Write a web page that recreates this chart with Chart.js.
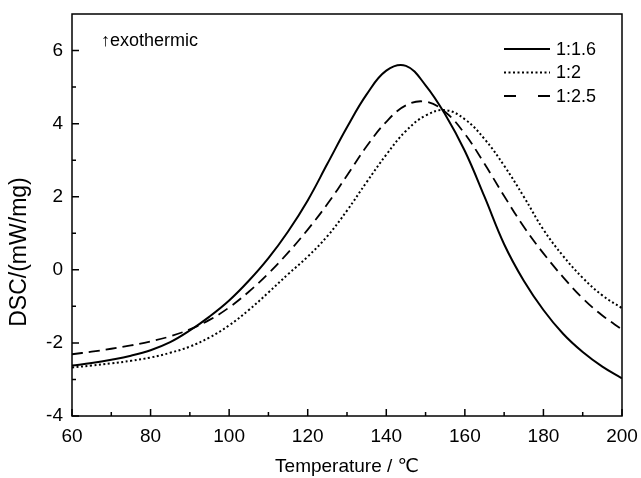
<!DOCTYPE html>
<html>
<head>
<meta charset="utf-8">
<script src="https://cdn.jsdelivr.net/npm/chart.js@4/dist/chart.umd.min.js"></script>
<style>
  html, body { margin: 0; padding: 0; background: #fff; }
  #wrap { width: 641px; height: 478px; }
</style>
</head>
<body>
<div id="wrap"><canvas id="dsc" width="641" height="478"></canvas></div>
<script>
// temperatures (°C) the curves were read at
const temps = [60, 65, 70, 75, 80, 85, 90, 95, 100, 105, 110, 115, 120, 125, 130,
               135, 140, 145, 150, 155, 160, 165, 170, 175, 180, 185, 190, 195, 200];

// DSC (mW/mg)
const dsc16 = [-2.62, -2.55, -2.46, -2.35, -2.20, -1.98, -1.66, -1.28, -0.84, -0.30,
               0.32, 1.05, 1.90, 2.90, 3.90, 4.80, 5.45, 5.58, 5.05, 4.25,
               3.25, 2.00, 0.70, -0.30, -1.10, -1.75, -2.25, -2.65, -2.97];
const dsc2 = [-2.67, -2.62, -2.56, -2.49, -2.40, -2.27, -2.10, -1.85, -1.52, -1.10,
              -0.62, -0.12, 0.36, 0.92, 1.62, 2.40, 3.15, 3.80, 4.22, 4.37,
              4.12, 3.58, 2.85, 2.00, 1.10, 0.38, -0.22, -0.70, -1.05];
const dsc25 = [-2.31, -2.24, -2.16, -2.07, -1.96, -1.82, -1.63, -1.37, -1.03, -0.60,
               -0.10, 0.47, 1.10, 1.80, 2.58, 3.38, 4.05, 4.50, 4.60, 4.32,
               3.72, 2.90, 2.02, 1.18, 0.45, -0.20, -0.78, -1.25, -1.63];

const seriesNames = ['1:1.6', '1:2', '1:2.5'];
const xTicks = [60, 80, 100, 120, 140, 160, 180, 200];
const xMinor = [70, 90, 110, 130, 150, 170, 190];
const yTicks = [-4, -2, 0, 2, 4, 6];
const yMinor = [-3, -1, 1, 3, 5];

const FONT = '"Liberation Sans", Arial, "DejaVu Sans", "Noto Sans CJK SC", sans-serif';

function pts(vals) {
    return temps.map((t, i) => ({x: t, y: vals[i]}));
}

const dashes = [[], [2, 2.5], [11, 6]];
const legendDashes = [[], [2, 2.5], [12, 22]];

// frame, inward ticks, y title, note and legend
const decor = {
    id: 'decor',
    afterDraw(chart) {
        const ctx = chart.ctx;
        const a = chart.chartArea;
        const xs = chart.scales.x, ys = chart.scales.y;
        ctx.save();
        ctx.strokeStyle = '#000';
        ctx.lineWidth = 1.5;
        ctx.strokeRect(a.left, a.top, a.right - a.left, a.bottom - a.top);

        ctx.beginPath();
        xTicks.forEach(v => { const p = xs.getPixelForValue(v); ctx.moveTo(p, a.bottom); ctx.lineTo(p, a.bottom - 7); });
        xMinor.forEach(v => { const p = xs.getPixelForValue(v); ctx.moveTo(p, a.bottom); ctx.lineTo(p, a.bottom - 4); });
        yTicks.forEach(v => { const p = ys.getPixelForValue(v); ctx.moveTo(a.left, p); ctx.lineTo(a.left + 7, p); });
        yMinor.forEach(v => { const p = ys.getPixelForValue(v); ctx.moveTo(a.left, p); ctx.lineTo(a.left + 4, p); });
        ctx.stroke();

        ctx.fillStyle = '#000';
        ctx.textBaseline = 'middle';

        // y title sits a bit below the middle of the axis in the original
        ctx.save();
        ctx.translate(20, 252);
        ctx.rotate(-Math.PI / 2);
        ctx.textAlign = 'center';
        ctx.font = '23px ' + FONT;
        ctx.fillText('DSC/(mW/mg)', 0, 0);
        ctx.restore();

        ctx.font = '18px ' + FONT;
        ctx.textAlign = 'left';
        ctx.fillText('\u2191exothermic', a.left + 29, 41);

        chart.data.datasets.forEach((ds, i) => {
            const y = 49 + i * 23.5;
            ctx.beginPath();
            ctx.setLineDash(legendDashes[i]);
            ctx.lineWidth = ds.borderWidth;
            ctx.moveTo(504, y);
            ctx.lineTo(550, y);
            ctx.stroke();
            ctx.setLineDash([]);
            ctx.fillText(ds.label, 556, y + 1);
        });
        ctx.restore();
    }
};

const ctx = document.getElementById('dsc').getContext('2d');
const chart = new Chart(ctx, {
    type: 'line',
    data: {
        datasets: [
            {label: seriesNames[0], data: pts(dsc16), borderColor: '#000', borderWidth: 2, borderDash: dashes[0]},
            {label: seriesNames[1], data: pts(dsc2), borderColor: '#000', borderWidth: 2, borderDash: dashes[1]},
            {label: seriesNames[2], data: pts(dsc25), borderColor: '#000', borderWidth: 1.8, borderDash: dashes[2]}
        ]
    },
    options: {
        responsive: false,
        animation: false,
        layout: {padding: {top: 14, right: 19, left: 0, bottom: 0}},
        elements: {
            point: {radius: 0},
            line: {tension: 0.4, fill: false}
        },
        plugins: {
            legend: {display: false},
            tooltip: {enabled: false}
        },
        scales: {
            x: {
                type: 'linear',
                min: 60,
                max: 200,
                grid: {display: false, drawTicks: false},
                border: {display: false},
                afterBuildTicks: s => { s.ticks = xTicks.map(v => ({value: v})); },
                afterFit: s => { s.height = 62; s.paddingLeft = 0; s.paddingRight = 0; },
                ticks: {color: '#000', padding: 9, font: {family: FONT, size: 19}, maxRotation: 0},
                title: {display: true, text: 'Temperature / \u2103', color: '#000',
                        font: {family: FONT, size: 19}, padding: {top: 0, bottom: 0}}
            },
            y: {
                type: 'linear',
                min: -4,
                max: 7,
                grid: {display: false, drawTicks: false},
                border: {display: false},
                afterBuildTicks: s => { s.ticks = yTicks.map(v => ({value: v})); },
                afterFit: s => { s.width = 72; s.paddingTop = 0; s.paddingBottom = 0; },
                ticks: {color: '#000', padding: 9, font: {family: FONT, size: 19}}
            }
        }
    },
    plugins: [decor]
});
</script>
</body>
</html>
